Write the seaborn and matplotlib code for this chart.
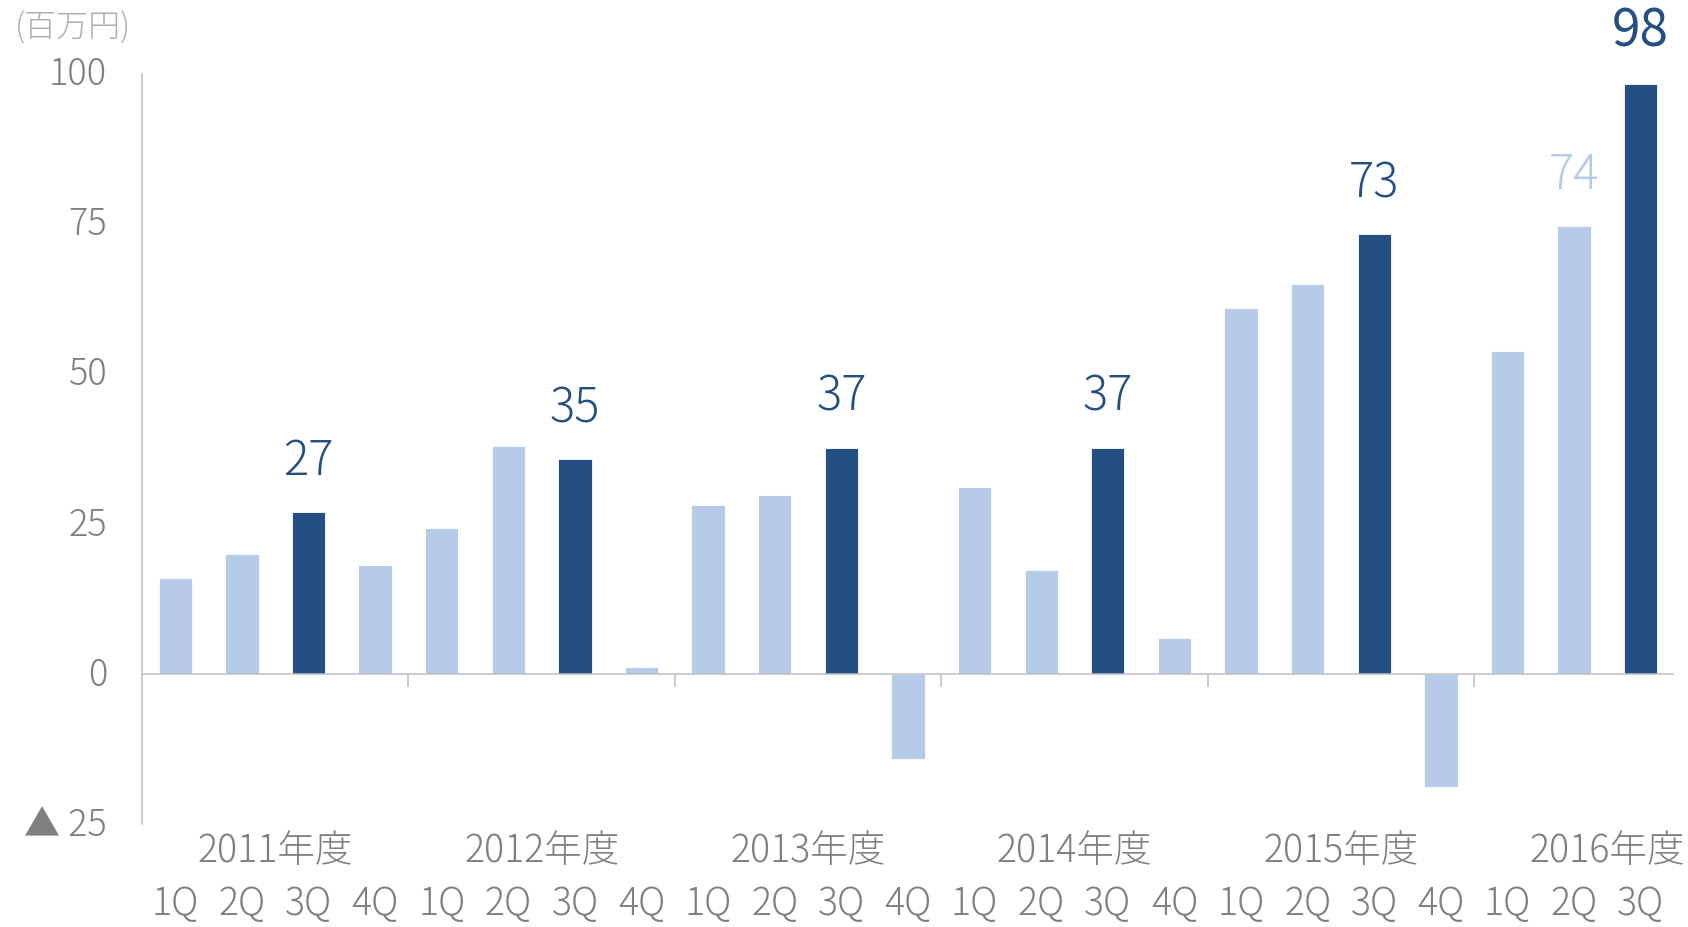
import matplotlib
matplotlib.use('Agg')
import matplotlib.pyplot as plt
import matplotlib.transforms as mtransforms
import seaborn as sns
import pandas as pd

# 数据（百万円）
years = ["2011年度", "2012年度", "2013年度", "2014年度", "2015年度", "2016年度"]
quarters_per_year = [4, 4, 4, 4, 4, 3]
quarter_names = ["1Q", "2Q", "3Q", "4Q"]
values = [15.9, 19.9, 27.0, 18.2,
          24.3, 37.9, 35.8, 1.2,
          28.1, 29.8, 37.7, -14.1,
          31.1, 17.3, 37.7, 6.0,
          61.0, 64.9, 73.2, -18.8,
          53.8, 74.6, 98.2]
bar_labels = ["", "", "27", "",
              "", "", "35", "",
              "", "", "37", "",
              "", "", "37", "",
              "", "", "73", "",
              "", "74", "98"]
y_ticks = [-25, 0, 25, 50, 75, 100]
y_ticklabels = ["▲ 25", "0", "25", "50", "75", "100"]

DARK = "#244F82"
LIGHT = "#B5CBE8"
GRID = "#BFBFBF"
TEXT = "#7F7F7F"

sns.set_theme(style="white")
plt.rcParams['font.family'] = ['Noto Sans CJK JP', 'DejaVu Sans']

keys, quarters, kinds = [], [], []
for y, n in zip(years, quarters_per_year):
    for q in quarter_names[:n]:
        keys.append(f"{y}-{q}")
        quarters.append(q)
        kinds.append("dark" if q == "3Q" else "light")
df = pd.DataFrame({"key": keys, "quarter": quarters, "value": values, "kind": kinds})

fig = plt.figure(figsize=(16.88, 9.27), dpi=100)
ax = fig.add_axes([0.0841, 0.1111, 0.9076, 0.8096])

sns.barplot(data=df, x="key", y="value", hue="kind",
            palette={"dark": DARK, "light": LIGHT},
            dodge=False, width=0.5, saturation=1, errorbar=None,
            legend=False, ax=ax, edgecolor="white", linewidth=0.6)

ax.set_xlim(-0.5, len(keys) - 0.5)
ax.set_ylim(-25, 100)
ax.set_yticks(y_ticks)
ax.set_yticklabels(y_ticklabels)
ax.set_xlabel("")
ax.set_ylabel("")

for s in ["top", "right", "bottom"]:
    ax.spines[s].set_visible(False)
ax.spines["left"].set_color(GRID)
ax.spines["left"].set_linewidth(1.1)
ax.tick_params(axis="y", length=9, width=1.1, color=GRID, pad=16,
               labelsize=26, labelcolor=TEXT)
ax.tick_params(axis="x", length=0, labelbottom=False)
shift_up = mtransforms.ScaledTranslation(0, 3 / 100, fig.dpi_scale_trans)
for t in ax.get_yticklabels():
    t.set_fontweight("light")
    t.set_transform(t.get_transform() + shift_up)

# 0 线 和 年度分隔
ax.axhline(0, color=GRID, lw=1.1, zorder=3)
bounds, pos = [], 0
for n in quarters_per_year[:-1]:
    pos += n
    bounds.append(pos - 0.5)
ax.vlines(bounds, -2.1, 0, color=GRID, lw=1.1, zorder=3)

# 数值标签
for i, (v, lab) in enumerate(zip(values, bar_labels)):
    if not lab:
        continue
    color = DARK if kinds[i] == "dark" else LIGHT
    big = (i == len(values) - 1)
    ax.annotate(lab, xy=(i, v), xytext=(0, 27.5 if big else 26.5),
                textcoords="offset points", ha="center", va="baseline",
                fontsize=37 if big else 34, color=color,
                fontweight="normal" if big else "light", annotation_clip=False)

# x 轴标签（两行）
trans = mtransforms.blended_transform_factory(ax.transData, fig.transFigure)
for i, q in enumerate(quarters):
    ax.text(i, 0.013, q, transform=trans, ha="center", va="baseline",
            fontsize=27, color=TEXT, fontweight="light")
start = 0
for y, n in zip(years, quarters_per_year):
    ax.text(start + 1.5, 0.0701, y, transform=trans, ha="center", va="baseline",
            fontsize=27, color=TEXT, fontweight="light")
    start += n

fig.text(15 / 1688, 1 - 28 / 927, "(百万円)", ha="left", va="center",
         fontsize=23, color="#AFAFAF", fontweight="light")

fig.savefig("out.png", dpi=100)
plt.close("all")
